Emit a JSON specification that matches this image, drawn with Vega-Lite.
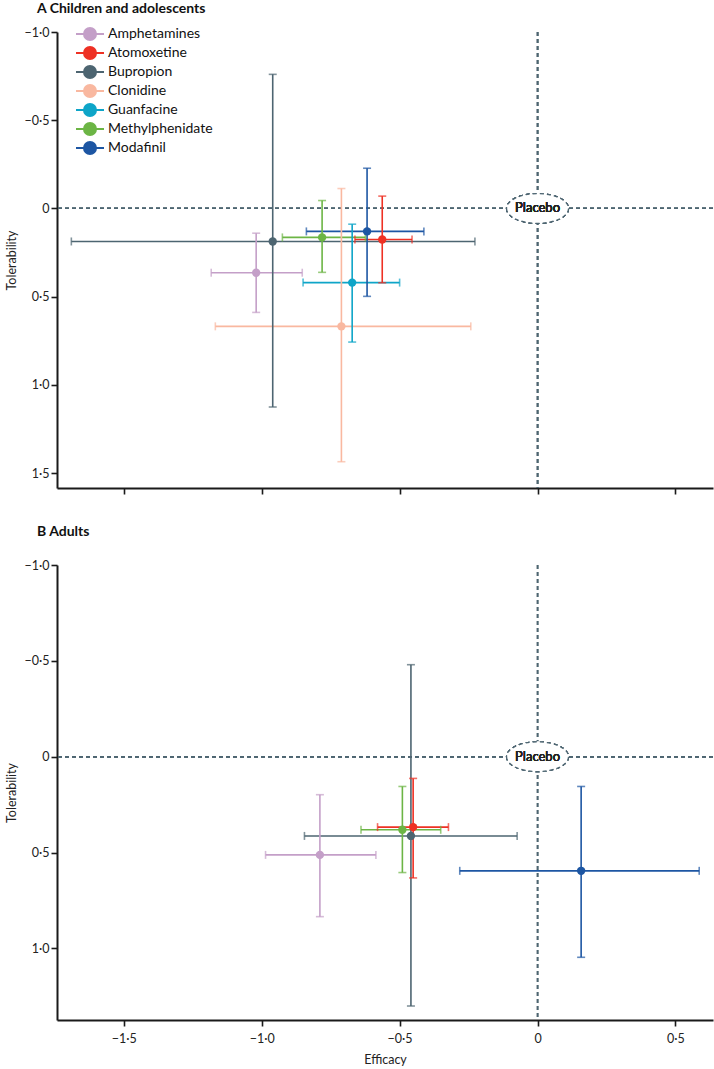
{
  "$schema": "https://vega.github.io/schema/vega-lite/v6.json",
  "padding": {"left": 5, "top": 2, "right": 0, "bottom": 0},
  "background": "white",
  "config": {
    "view": {"stroke": null},
    "font": "Lato",
    "axis": {
      "grid": false,
      "domainColor": "#1a1a1a",
      "domainWidth": 2,
      "tickColor": "#1a1a1a",
      "tickWidth": 1.6,
      "tickSize": 6,
      "labelFont": "Lato",
      "labelFontSize": 12.5,
      "labelColor": "#222222",
      "labelPadding": 2,
      "titleFont": "Lato",
      "titleFontSize": 12.5,
      "titleFontWeight": "normal",
      "titleColor": "#222222"
    },
    "axisX": {"labelPadding": 6, "titlePadding": 9},
    "title": {"font": "Lato", "fontWeight": "bold", "fontSize": 14, "color": "#111111", "anchor": "start", "frame": "group"}
  },
  "datasets": {
    "children": [
      {"drug": "Amphetamines", "x": -1.02, "y": 0.364, "xlo": -1.183, "xhi": -0.853, "ylo": 0.14, "yhi": 0.589},
      {"drug": "Bupropion", "x": -0.96, "y": 0.187, "xlo": -1.69, "xhi": -0.227, "ylo": -0.76, "yhi": 1.125},
      {"drug": "Clonidine", "x": -0.711, "y": 0.668, "xlo": -1.168, "xhi": -0.242, "ylo": -0.113, "yhi": 1.435},
      {"drug": "Guanfacine", "x": -0.672, "y": 0.42, "xlo": -0.85, "xhi": -0.5, "ylo": 0.089, "yhi": 0.757},
      {"drug": "Methylphenidate", "x": -0.781, "y": 0.164, "xlo": -0.925, "xhi": -0.624, "ylo": -0.045, "yhi": 0.362},
      {"drug": "Atomoxetine", "x": -0.563, "y": 0.176, "xlo": -0.662, "xhi": -0.455, "ylo": -0.07, "yhi": 0.421},
      {"drug": "Modafinil", "x": -0.618, "y": 0.13, "xlo": -0.838, "xhi": -0.412, "ylo": -0.228, "yhi": 0.498}
    ],
    "adults": [
      {"drug": "Amphetamines", "x": -0.789, "y": 0.512, "xlo": -0.986, "xhi": -0.586, "ylo": 0.198, "yhi": 0.834},
      {"drug": "Methylphenidate", "x": -0.49, "y": 0.381, "xlo": -0.64, "xhi": -0.351, "ylo": 0.155, "yhi": 0.604},
      {"drug": "Atomoxetine", "x": -0.451, "y": 0.367, "xlo": -0.58, "xhi": -0.323, "ylo": 0.113, "yhi": 0.632},
      {"drug": "Bupropion", "x": -0.459, "y": 0.413, "xlo": -0.845, "xhi": -0.074, "ylo": -0.48, "yhi": 1.3},
      {"drug": "Modafinil", "x": 0.158, "y": 0.595, "xlo": -0.282, "xhi": 0.586, "ylo": 0.155, "yhi": 1.046}
    ]
  },
  "resolve": {"legend": {"color": "independent"}},
  "spacing": 30,
  "vconcat": [
    {
      "title": {"text": "A  Children and adolescents", "dx": -20, "offset": 10},
      "width": 656,
      "height": 456,
      "data": {"name": "children"},
      "layer": [
        {
          "mark": {"type": "rule", "strokeDash": [4, 3], "color": "#4d6571", "strokeWidth": 1.3},
          "encoding": {
            "y": {"datum": 0, "type": "quantitative", "scale": {"domain": [-1, 1.584], "nice": false, "zero": false, "reverse": true}, "axis": {"values": [-1, -0.5, 0, 0.5, 1, 1.5], "title": "Tolerability", "titlePadding": 6, "labelExpr": "datum.value == 0 ? '0' : replace(format(datum.value, '.1f'), '.', '·')"}}
          }
        },
        {
          "mark": {"type": "rule", "strokeDash": [4, 3], "color": "#4d6571", "strokeWidth": 1.3},
          "encoding": {
            "x": {"datum": 0, "type": "quantitative", "scale": {"domain": [-1.742, 0.636], "nice": false, "zero": false}, "axis": {"values": [-1.5, -1, -0.5, 0, 0.5], "labels": false, "title": null}}
          }
        },
        {
          "mark": {"type": "rule", "strokeWidth": 1.6},
          "encoding": {
            "x": {"field": "xlo", "type": "quantitative", "scale": {"domain": [-1.742, 0.636], "nice": false, "zero": false}, "axis": {"values": [-1.5, -1, -0.5, 0, 0.5], "labels": false, "title": null}},
            "x2": {"field": "xhi"},
            "y": {"field": "y", "type": "quantitative", "scale": {"domain": [-1, 1.584], "nice": false, "zero": false, "reverse": true}, "axis": {"values": [-1, -0.5, 0, 0.5, 1, 1.5], "title": "Tolerability", "titlePadding": 6, "labelExpr": "datum.value == 0 ? '0' : replace(format(datum.value, '.1f'), '.', '·')"}},
            "color": {"field": "drug", "type": "nominal", "scale": {"domain": ["Amphetamines", "Atomoxetine", "Bupropion", "Clonidine", "Guanfacine", "Methylphenidate", "Modafinil"], "range": ["#c49fc8", "#ee3124", "#4d6571", "#f9b8a0", "#0ea5c8", "#6cb545", "#1d56a3"]}}
          }
        },
        {
          "mark": {"type": "rule", "strokeWidth": 1.6},
          "encoding": {
            "x": {"field": "x", "type": "quantitative"},
            "y": {"field": "ylo", "type": "quantitative"},
            "y2": {"field": "yhi"},
            "color": {"field": "drug", "type": "nominal"}
          }
        },
        {
          "mark": {"type": "tick", "orient": "vertical", "size": 8, "thickness": 1.6},
          "encoding": {
            "x": {"field": "xlo", "type": "quantitative"},
            "y": {"field": "y", "type": "quantitative"},
            "color": {"field": "drug", "type": "nominal"}
          }
        },
        {
          "mark": {"type": "tick", "orient": "vertical", "size": 8, "thickness": 1.6},
          "encoding": {
            "x": {"field": "xhi", "type": "quantitative"},
            "y": {"field": "y", "type": "quantitative"},
            "color": {"field": "drug", "type": "nominal"}
          }
        },
        {
          "mark": {"type": "tick", "orient": "horizontal", "size": 8, "thickness": 1.6},
          "encoding": {
            "x": {"field": "x", "type": "quantitative"},
            "y": {"field": "ylo", "type": "quantitative"},
            "color": {"field": "drug", "type": "nominal"}
          }
        },
        {
          "mark": {"type": "tick", "orient": "horizontal", "size": 8, "thickness": 1.6},
          "encoding": {
            "x": {"field": "x", "type": "quantitative"},
            "y": {"field": "yhi", "type": "quantitative"},
            "color": {"field": "drug", "type": "nominal"}
          }
        },
        {
          "mark": {"type": "point", "filled": true, "size": 70, "opacity": 1},
          "encoding": {
            "x": {"field": "x", "type": "quantitative"},
            "y": {"field": "y", "type": "quantitative"},
            "color": {
              "field": "drug", "type": "nominal",
              "legend": {
                "title": null,
                "orient": "none",
                "legendX": 25,
                "legendY": -6,
                "padding": 0,
                "symbolType": "M -2 0 L 2 0 M 0.86 0 A 0.86 0.86 0 1 1 -0.86 0 A 0.86 0.86 0 1 1 0.86 0 Z",
                "symbolSize": 196,
                "symbolStrokeWidth": 2,
                "symbolOpacity": 1,
                "labelFont": "Lato",
                "labelFontSize": 14,
                "labelColor": "#111111",
                "labelOffset": 10,
                "rowPadding": -3,
                "labelLimit": 300,
                "encode": {"symbols": {"update": {"fill": {"scale": "color", "field": "value"}, "stroke": {"scale": "color", "field": "value"}, "strokeWidth": {"value": 2}, "opacity": {"value": 1}, "fillOpacity": {"value": 1}, "strokeOpacity": {"value": 1}}}}
              }
            }
          }
        },
        {
          "mark": {"type": "point", "shape": "M -1 0 A 1 0.48 0 1 0 1 0 A 1 0.48 0 1 0 -1 0 Z", "size": 3844, "fill": "white", "fillOpacity": 1, "stroke": "#4d6571", "strokeDash": [4, 3], "strokeWidth": 1.3, "opacity": 1},
          "encoding": {"x": {"datum": 0, "type": "quantitative"}, "y": {"datum": 0, "type": "quantitative"}}
        },
        {
          "mark": {"type": "text", "text": "Placebo", "font": "Lato", "fontSize": 13, "fontWeight": 400, "color": "#222222"},
          "encoding": {"x": {"datum": 0, "type": "quantitative"}, "y": {"datum": 0, "type": "quantitative"}}
        }
      ]
    },
    {
      "title": {"text": "B  Adults", "dx": -20, "offset": 20},
      "width": 656,
      "height": 455,
      "data": {"name": "adults"},
      "layer": [
        {
          "mark": {"type": "rule", "strokeDash": [4, 3], "color": "#4d6571", "strokeWidth": 1.3},
          "encoding": {
            "y": {"datum": 0, "type": "quantitative", "scale": {"domain": [-1, 1.373], "nice": false, "zero": false, "reverse": true}, "axis": {"values": [-1, -0.5, 0, 0.5, 1], "title": "Tolerability", "titlePadding": 6, "labelExpr": "datum.value == 0 ? '0' : replace(format(datum.value, '.1f'), '.', '·')"}}
          }
        },
        {
          "mark": {"type": "rule", "strokeDash": [4, 3], "color": "#4d6571", "strokeWidth": 1.3},
          "encoding": {
            "x": {"datum": 0, "type": "quantitative", "scale": {"domain": [-1.742, 0.636], "nice": false, "zero": false}, "axis": {"values": [-1.5, -1, -0.5, 0, 0.5], "title": "Efficacy", "labelExpr": "datum.value == 0 ? '0' : replace(format(datum.value, '.1f'), '.', '·')"}}
          }
        },
        {
          "mark": {"type": "rule", "strokeWidth": 1.6},
          "encoding": {
            "x": {"field": "xlo", "type": "quantitative", "scale": {"domain": [-1.742, 0.636], "nice": false, "zero": false}, "axis": {"values": [-1.5, -1, -0.5, 0, 0.5], "title": "Efficacy", "labelExpr": "datum.value == 0 ? '0' : replace(format(datum.value, '.1f'), '.', '·')"}},
            "x2": {"field": "xhi"},
            "y": {"field": "y", "type": "quantitative", "scale": {"domain": [-1, 1.373], "nice": false, "zero": false, "reverse": true}, "axis": {"values": [-1, -0.5, 0, 0.5, 1], "title": "Tolerability", "titlePadding": 6, "labelExpr": "datum.value == 0 ? '0' : replace(format(datum.value, '.1f'), '.', '·')"}},
            "color": {"field": "drug", "type": "nominal", "legend": null}
          }
        },
        {
          "mark": {"type": "rule", "strokeWidth": 1.6},
          "encoding": {
            "x": {"field": "x", "type": "quantitative"},
            "y": {"field": "ylo", "type": "quantitative"},
            "y2": {"field": "yhi"},
            "color": {"field": "drug", "type": "nominal", "legend": null}
          }
        },
        {
          "mark": {"type": "tick", "orient": "vertical", "size": 8, "thickness": 1.6},
          "encoding": {
            "x": {"field": "xlo", "type": "quantitative"},
            "y": {"field": "y", "type": "quantitative"},
            "color": {"field": "drug", "type": "nominal", "legend": null}
          }
        },
        {
          "mark": {"type": "tick", "orient": "vertical", "size": 8, "thickness": 1.6},
          "encoding": {
            "x": {"field": "xhi", "type": "quantitative"},
            "y": {"field": "y", "type": "quantitative"},
            "color": {"field": "drug", "type": "nominal", "legend": null}
          }
        },
        {
          "mark": {"type": "tick", "orient": "horizontal", "size": 8, "thickness": 1.6},
          "encoding": {
            "x": {"field": "x", "type": "quantitative"},
            "y": {"field": "ylo", "type": "quantitative"},
            "color": {"field": "drug", "type": "nominal", "legend": null}
          }
        },
        {
          "mark": {"type": "tick", "orient": "horizontal", "size": 8, "thickness": 1.6},
          "encoding": {
            "x": {"field": "x", "type": "quantitative"},
            "y": {"field": "yhi", "type": "quantitative"},
            "color": {"field": "drug", "type": "nominal", "legend": null}
          }
        },
        {
          "mark": {"type": "point", "filled": true, "size": 70, "opacity": 1},
          "encoding": {
            "x": {"field": "x", "type": "quantitative"},
            "y": {"field": "y", "type": "quantitative"},
            "color": {"field": "drug", "type": "nominal", "legend": null}
          }
        },
        {
          "mark": {"type": "point", "shape": "M -1 0 A 1 0.48 0 1 0 1 0 A 1 0.48 0 1 0 -1 0 Z", "size": 3844, "fill": "white", "fillOpacity": 1, "stroke": "#4d6571", "strokeDash": [4, 3], "strokeWidth": 1.3, "opacity": 1},
          "encoding": {"x": {"datum": 0, "type": "quantitative"}, "y": {"datum": 0, "type": "quantitative"}}
        },
        {
          "mark": {"type": "text", "text": "Placebo", "font": "Lato", "fontSize": 13, "fontWeight": 400, "color": "#222222"},
          "encoding": {"x": {"datum": 0, "type": "quantitative"}, "y": {"datum": 0, "type": "quantitative"}}
        }
      ]
    }
  ]
}
